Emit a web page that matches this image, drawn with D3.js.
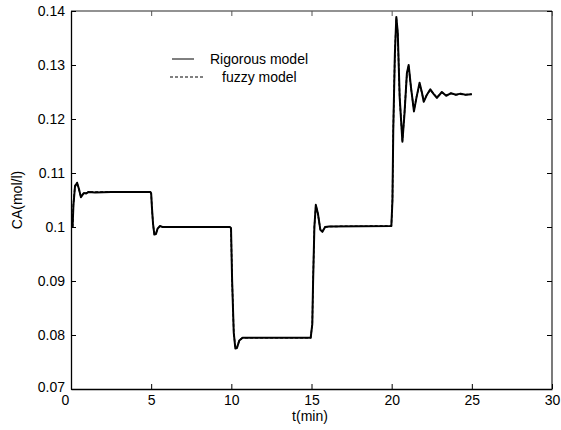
<!DOCTYPE html>
<html>
<head>
<meta charset="utf-8">
<script src="https://cdn.jsdelivr.net/npm/d3@7"></script>
<style>
  body { margin: 0; background: #fff; }
  svg text { font-family: "Liberation Sans", Arial, sans-serif; font-size: 14px; fill: #000; }
</style>
</head>
<body>
<div class="chart"></div>
<script>
/* data */
const time = [0.1, 0.15, 0.25, 0.38, 0.5, 0.62, 0.8, 0.95, 1.1, 1.5, 2.5, 4.95,
    5.0, 5.05, 5.12, 5.2, 5.3, 5.4, 5.55, 5.7, 9.9,
    9.98, 10.05, 10.15, 10.25, 10.35, 10.5, 10.7, 14.95,
    15.05, 15.1, 15.18, 15.27, 15.4, 15.55, 15.68, 15.85, 16.1, 19.98,
    20.05, 20.1, 20.2, 20.29, 20.38, 20.5, 20.67, 20.8, 20.95, 21.06, 21.2, 21.39, 21.55, 21.74, 21.88,
    22.0, 22.2, 22.41, 22.6, 22.82, 23.13, 23.4, 23.7, 24.0, 24.3, 24.6, 25.0]
const rigorous = [0.1, 0.104, 0.1075, 0.1082, 0.107, 0.1055, 0.1063, 0.1062, 0.1065, 0.1064, 0.1065, 0.1065,
    0.1062, 0.1035, 0.1005, 0.0986, 0.0987, 0.0997, 0.1002, 0.1, 0.1,
    0.0998, 0.09, 0.0805, 0.0775, 0.0776, 0.079, 0.0795, 0.0795,
    0.082, 0.09, 0.1, 0.1041, 0.1025, 0.0995, 0.0991, 0.1, 0.1001, 0.1002,
    0.105, 0.118, 0.132, 0.1389, 0.136, 0.124, 0.1158, 0.121, 0.1285, 0.130, 0.126, 0.1214, 0.124, 0.1267, 0.125,
    0.1232, 0.1245, 0.1255, 0.1247, 0.1239, 0.125, 0.1243, 0.1248, 0.1245, 0.1247, 0.1245, 0.1246]
const fuzzy = [0.1, 0.1042, 0.1077, 0.1081, 0.1069, 0.1056, 0.1063, 0.1063, 0.1065, 0.1065, 0.1065, 0.1065,
    0.1062, 0.1034, 0.1004, 0.0987, 0.0988, 0.0997, 0.1001, 0.1, 0.1,
    0.0998, 0.0901, 0.0806, 0.0776, 0.0777, 0.079, 0.0795, 0.0795,
    0.0821, 0.0902, 0.1001, 0.104, 0.1024, 0.0996, 0.0992, 0.1, 0.1001, 0.1002,
    0.1052, 0.1182, 0.1322, 0.1387, 0.1358, 0.1238, 0.116, 0.1212, 0.1283, 0.1298, 0.1259, 0.1216, 0.1241, 0.1265, 0.1249,
    0.1234, 0.1245, 0.1254, 0.1247, 0.124, 0.1249, 0.1244, 0.1247, 0.1245, 0.1246, 0.1245, 0.1246]
const xTicks = [0, 5, 10, 15, 20, 25, 30]
const yTicks = [0.07, 0.08, 0.09, 0.1, 0.11, 0.12, 0.13, 0.14]
const legendNames = ['Rigorous model', 'fuzzy model']

const width = 561
const height = 430
const plot = { left: 71, right: 552, top: 11, bottom: 389 }

const svg = d3.select('.chart')
    .append('svg')
    .attr('width', width)
    .attr('height', height)

const x = d3.scaleLinear().domain([0, 30]).range([plot.left, plot.right])
const y = d3.scaleLinear().domain([0.07, 0.14]).range([plot.bottom, plot.top])

// box
svg.append('line').attr('x1', plot.left).attr('x2', plot.right).attr('y1', plot.top).attr('y2', plot.top)
    .attr('stroke', '#6e6e6e').attr('stroke-width', 1.3)
svg.append('line').attr('x1', plot.right).attr('x2', plot.right).attr('y1', plot.top).attr('y2', plot.bottom)
    .attr('stroke', '#333').attr('stroke-width', 1.3)

// axes, ticks pointing inward
const xAxis = svg.append('g')
    .attr('transform', `translate(0,${plot.bottom})`)
    .call(d3.axisBottom(x).tickValues(xTicks).tickSizeInner(-5).tickSizeOuter(0).tickPadding(6))
xAxis.selectAll('text').filter(d => d === 0).attr('dx', -6)

svg.append('g')
    .attr('transform', `translate(0,${plot.top})`)
    .call(d3.axisTop(x).tickValues(xTicks).tickSizeInner(-5).tickSizeOuter(0).tickFormat(''))
    .call(g => g.select('.domain').remove())
    .selectAll('line').attr('stroke', '#555')

const yAxis = svg.append('g')
    .attr('transform', `translate(${plot.left},0)`)
    .call(d3.axisLeft(y).tickValues(yTicks).tickSizeInner(-5).tickSizeOuter(0).tickPadding(6)
        .tickFormat(d => d3.format('.2~f')(d)))
yAxis.selectAll('text').filter(d => d === 0.07).attr('dy', '0.2em')

svg.append('g')
    .attr('transform', `translate(${plot.right},0)`)
    .call(d3.axisRight(y).tickValues(yTicks).tickSizeInner(-5).tickSizeOuter(0).tickFormat(''))
    .call(g => g.select('.domain').remove())

svg.selectAll('.domain').attr('stroke', '#000').attr('stroke-width', 1.3)
svg.selectAll('.tick text').style('font-size', '14px').attr('fill', '#000')

// axis labels
svg.append('text')
    .attr('x', 310).attr('y', 421)
    .attr('text-anchor', 'middle')
    .text('t(min)')
svg.append('text')
    .attr('transform', 'translate(22,200) rotate(-90)')
    .attr('text-anchor', 'middle')
    .text('CA(mol/l)')

// curves
const line = d3.line()
    .x((d, i) => x(time[i]))
    .y(d => y(d))

svg.append('path')
    .datum(rigorous)
    .attr('d', line)
    .attr('fill', 'none')
    .attr('stroke', '#000')
    .attr('stroke-width', 2)
    .attr('stroke-linejoin', 'round')

svg.append('path')
    .datum(fuzzy)
    .attr('d', line)
    .attr('fill', 'none')
    .attr('stroke', '#000')
    .attr('stroke-width', 1.5)
    .attr('stroke-dasharray', '3,2')

// legend (no box)
svg.append('line').attr('x1', 172).attr('x2', 194).attr('y1', 59).attr('y2', 59)
    .attr('stroke', '#000').attr('stroke-width', 1)
svg.append('text').attr('x', 210).attr('y', 64).text(legendNames[0])
svg.append('line').attr('x1', 170).attr('x2', 204).attr('y1', 77).attr('y2', 77)
    .attr('stroke', '#000').attr('stroke-width', 1).attr('stroke-dasharray', '3,2')
svg.append('text').attr('x', 222).attr('y', 82).text(legendNames[1])
</script>
</body>
</html>
